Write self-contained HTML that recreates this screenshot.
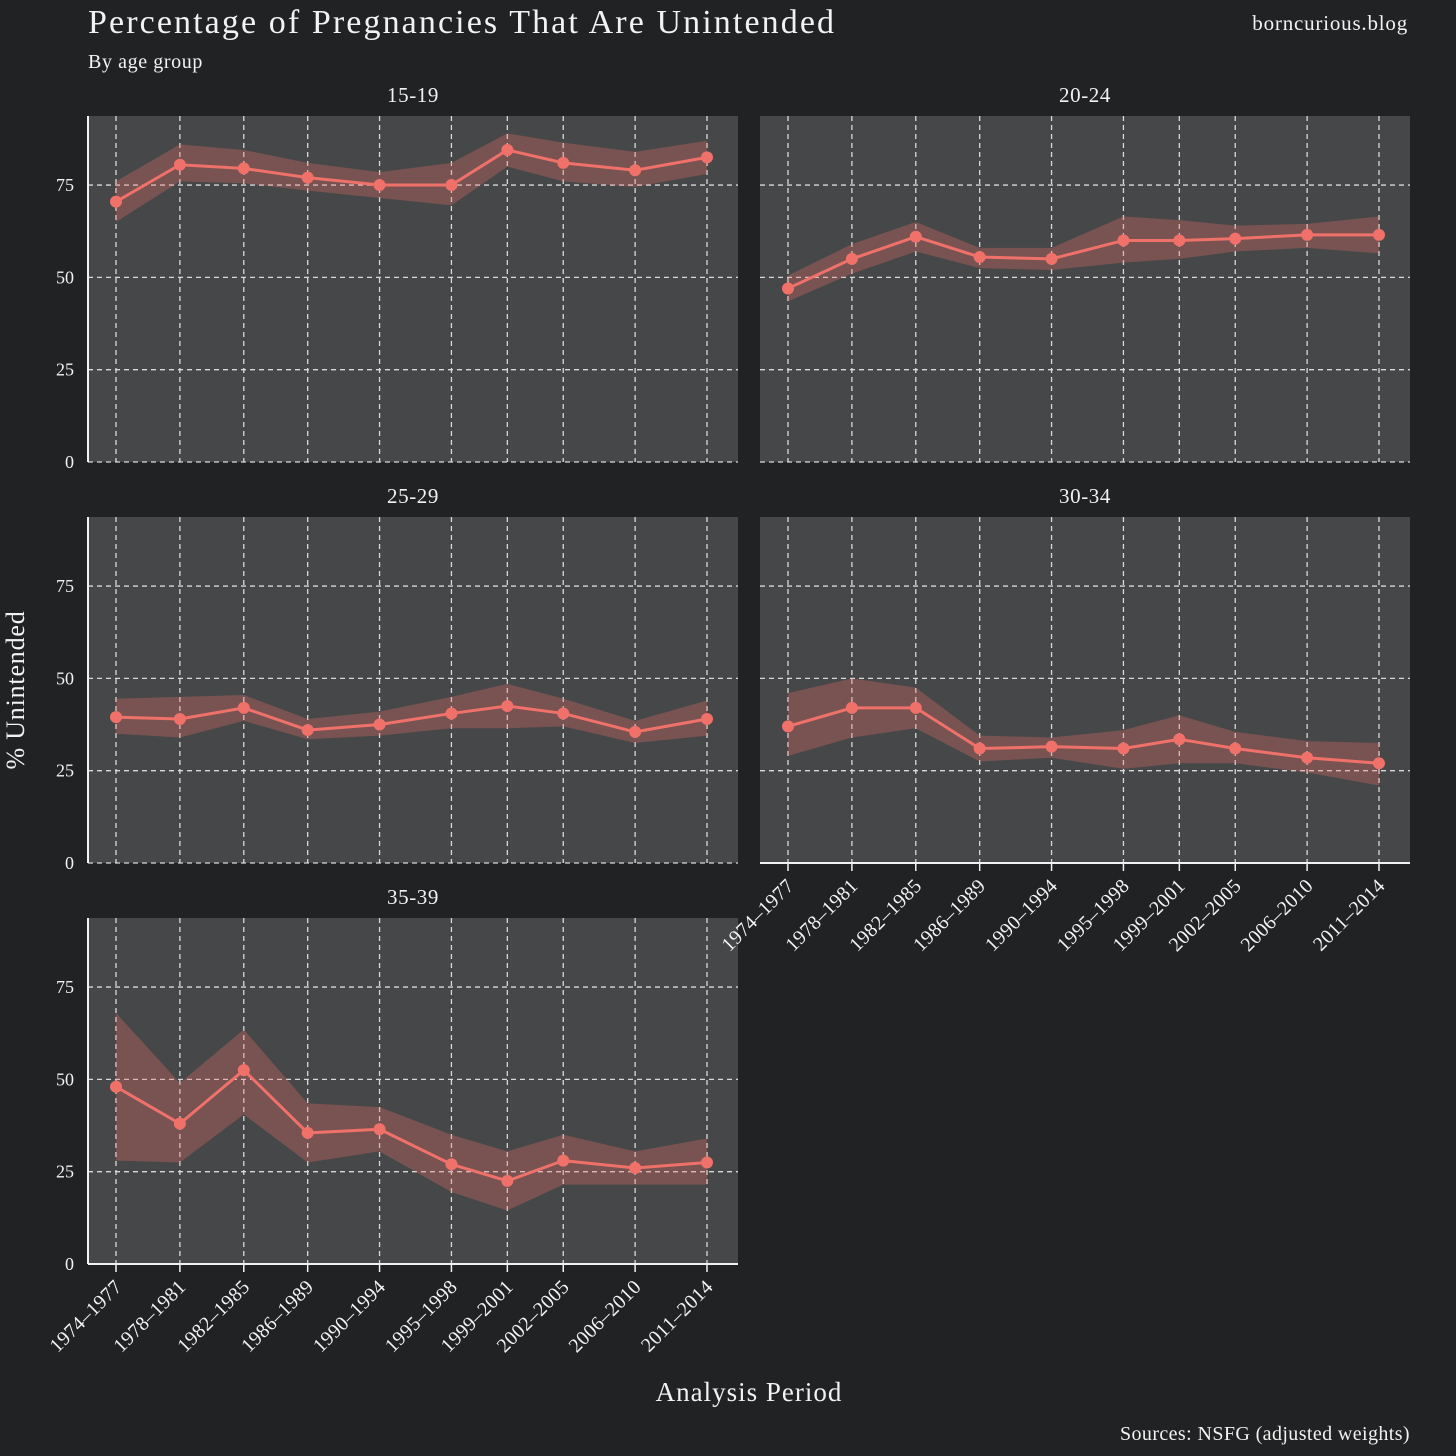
<!DOCTYPE html>
<html><head><meta charset="utf-8">
<style>
html,body{margin:0;padding:0;background:#212223;}
svg{display:block;font-family:"Liberation Serif",serif;}
</style></head>
<body>
<svg id="chart" width="1456" height="1456" viewBox="0 0 1456 1456">
<rect x="0" y="0" width="1456" height="1456" fill="#212223"/>
<text x="88" y="33" font-size="34" letter-spacing="2.1" fill="#f2f2f2">Percentage of Pregnancies That Are Unintended</text>
<text x="88" y="68" font-size="20" letter-spacing="0.6" fill="#f2f2f2">By age group</text>
<text x="1408" y="30" font-size="21" letter-spacing="0.8" fill="#f2f2f2" text-anchor="end">borncurious.blog</text>
<text transform="translate(24,690) rotate(-90)" font-size="26" letter-spacing="0.8" fill="#f2f2f2" text-anchor="middle">% Unintended</text>
<text x="749" y="1401" font-size="27" letter-spacing="1" fill="#f2f2f2" text-anchor="middle">Analysis Period</text>
<text x="1410" y="1440" font-size="20" letter-spacing="0.4" fill="#f2f2f2" text-anchor="end">Sources: NSFG (adjusted weights)</text>
<g id="panels"></g>
<g id="labels"></g>
</svg>
<script>
const periods = ["1974–1977","1978–1981","1982–1985","1986–1989","1990–1994","1995–1998","1999–2001","2002–2005","2006–2010","2011–2014"];
const midYears = [1975.5,1979.5,1983.5,1987.5,1992,1996.5,2000,2003.5,2008,2012.5];
const yTicks = [0,25,50,75];
const groups = ["15-19","20-24","25-29","30-34","35-39"];
const est1519 = [70.5,80.5,79.5,77,75,75,84.5,81,79,82.5];
const lo1519 = [65,76,75.5,73.5,71.5,69.5,80,76,74.5,78];
const hi1519 = [76,86,84.5,81,78.5,81,89,86.5,84,87];
const est2024 = [47,55,61,55.5,55,60,60,60.5,61.5,61.5];
const lo2024 = [43.5,51,57,52.5,52,54,55,57,58,56.5];
const hi2024 = [50.5,59,65,58,58,66.5,65.5,64,64.5,66.5];
const est2529 = [39.5,39,42,36,37.5,40.5,42.5,40.5,35.5,39];
const lo2529 = [35,34,38.5,33.5,34.5,36.5,36.5,37,32.5,34.5];
const hi2529 = [44.5,45,45.5,39,41,45,48.5,44.5,38.5,44];
const est3034 = [37,42,42,31,31.5,31,33.5,31,28.5,27];
const lo3034 = [29,34,36.5,27.5,28.5,25.5,27,27,24.5,21];
const hi3034 = [46,50,47.5,34.5,34,36,40,35.5,33,32.5];
const est3539 = [48,38,52.5,35.5,36.5,27,22.5,28,26,27.5];
const lo3539 = [28,27.5,40.5,27.5,30.5,19.5,14.5,21.5,21.5,21.5];
const hi3539 = [68,49,63.5,43.5,42.5,35,30.5,35,30.5,34];
const estAll = [est1519,est2024,est2529,est3034,est3539];
const loAll = [lo1519,lo2024,lo2529,lo3034,lo3539];
const hiAll = [hi1519,hi2024,hi2529,hi3034,hi3539];

const NS="http://www.w3.org/2000/svg";
const root=document.getElementById('panels');
const labelLayer=document.getElementById('labels');
function mk(tag,attrs,parent){const e=document.createElementNS(NS,tag);for(const k in attrs)e.setAttribute(k,attrs[k]);(parent||root).appendChild(e);return e;}
const layout=[
 {x0:88,top:116,yAxis:true,xAxis:false},
 {x0:760,top:116,yAxis:false,xAxis:false},
 {x0:88,top:517,yAxis:true,xAxis:false},
 {x0:760,top:517,yAxis:false,xAxis:true},
 {x0:88,top:918,yAxis:true,xAxis:true}
];
const W=650,H=346;
layout.forEach((L,i)=>{
  const g=mk('g',{});
  
  
  const xs=v=>L.x0+28+(v-1975.5)*(591/37);
  const ys=v=>L.top+H-v*(H/93.7);
  const bg=mk('rect',{x:L.x0,y:L.top,width:W,height:H,fill:'#464748'},g);
  
  
  const t=mk('text',{x:L.x0+W/2,y:L.top-14,'font-size':21,'letter-spacing':0.6,fill:'#f2f2f2','text-anchor':'middle'},g);
  t.textContent=groups[i];
  
  
  yTicks.forEach(v=>{
    const l=mk('line',{x1:L.x0,x2:L.x0+W,y1:ys(v),y2:ys(v),stroke:'#d9d9d9','stroke-width':1.3,'stroke-dasharray':'5,4'},g);
    
    
    if(L.yAxis){
      const tl=mk('text',{x:L.x0-14,y:ys(v)+6,'font-size':18,fill:'#f2f2f2','text-anchor':'end'},g);
      tl.textContent=v;
      
      
    }
  });
  midYears.forEach((m,j)=>{
    const l=mk('line',{x1:xs(m),x2:xs(m),y1:L.top,y2:L.top+H,stroke:'#d9d9d9','stroke-width':1.3,'stroke-dasharray':'5,4'},g);
    
    
    if(L.xAxis){
      const tk=mk('line',{x1:xs(m),x2:xs(m),y1:L.top+H,y2:L.top+H+8,stroke:'#f2f2f2','stroke-width':1.5},g);
      
      
      const tl=mk('text',{transform:`translate(${xs(m)+7},${L.top+H+24}) rotate(-45)`,'font-size':20,'letter-spacing':0.3,fill:'#f2f2f2','text-anchor':'end'},labelLayer);
      tl.textContent=periods[j];
      
      
    }
  });
  const est=estAll[i],lo=loAll[i],hi=hiAll[i];
  let d='';
  midYears.forEach((m,j)=>{d+=(j?'L':'M')+xs(m)+','+ys(hi[j]);});
  for(let j=midYears.length-1;j>=0;j--)d+='L'+xs(midYears[j])+','+ys(lo[j]);
  const band=mk('path',{d:d+'Z',fill:'#f0706a','fill-opacity':0.3},g);
  
  
  const pts=midYears.map((m,j)=>xs(m)+','+ys(est[j])).join(' ');
  const line=mk('polyline',{points:pts,fill:'none',stroke:'#f0706a','stroke-width':3},g);
  
  
  midYears.forEach((m,j)=>{
    const c=mk('circle',{cx:xs(m),cy:ys(est[j]),r:6,fill:'#f0706a'},g);
    
    
  });
  if(L.yAxis){
    const a=mk('line',{x1:L.x0,x2:L.x0,y1:L.top,y2:L.top+H,stroke:'#f2f2f2','stroke-width':2},g);
    
    
  }
  if(L.xAxis){
    const a=mk('line',{x1:L.x0,x2:L.x0+W,y1:L.top+H,y2:L.top+H,stroke:'#f2f2f2','stroke-width':2},g);
    
    
  }
});
</script>
</body></html>
